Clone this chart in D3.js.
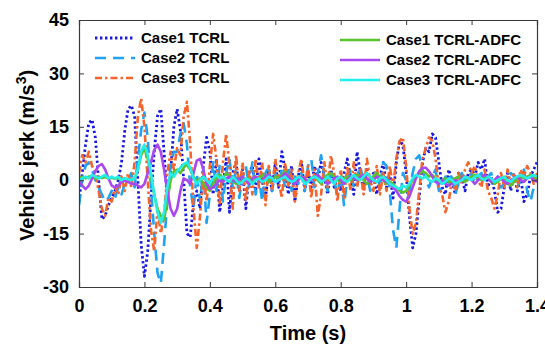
<!DOCTYPE html>
<html>
<head>
<meta charset="utf-8">
<script src="https://cdn.jsdelivr.net/npm/d3@7"></script>
<style>
  body { margin: 0; background: #fff; }
  text { font-family: "Liberation Sans", Arial, sans-serif; font-weight: bold; fill: #000; }
</style>
</head>
<body>
<div id="chart-area"></div>
<script>
const width = 545;
const height = 347;

// sampling step of every series (s)
const dt = 0.01;
const xTicks = [0, 0.2, 0.4, 0.6, 0.8, 1, 1.2, 1.4];
const yTicks = [-30, -15, 0, 15, 30, 45];
const names = ["Case1 TCRL", "Case2 TCRL", "Case3 TCRL",
    "Case1 TCRL-ADFC", "Case2 TCRL-ADFC", "Case3 TCRL-ADFC"];

const case1TCRL = [
    -6, 2, 10, 16, 17, 12, 0, -11, -10, -7,
    -5, -3, 0, 5, 14, 20, 21, 18, 0, -18,
    -27, -20, -5, 8, 18, 20, 8, -6, 2, 15,
    20, 14, 0, -15, -16, -6, -3, -8, 4, 12,
    8, -4, 6, -9, -2, 6, -9, 2, 5, -3,
    3, -8, 2, 4, -3, 6, 0, -5, 3, -3,
    5, -2, 8, 3, -4, 4, -6, 1, 5, -3,
    3, -2, 4, 0, 5, 1, -4, 3, -2, 1,
    -3, 2, 6, 1, -4, 8, 2, -3, 3, -1,
    2, -4, 1, 5, -2, 2, -5, 5, 11, 10,
    2, -10, -19, -15, -5, 5, 9, 8, 13, 12,
    5, -2, -4, 3, 0, -4, 2, 1, -3, 2,
    3, 1, 5, 3, 6, -2, 1, -3, -9, -8,
    -2, 2, -3, 2, -3, 1, -6, -4, 1, 3,
    5];
const case2TCRL = [
    -7, 0, 4, 5, 3, 0, -2, -4, -6, -5,
    -3, -5, -2, -4, -1, 0, 2, -2, 6, 14,
    19, 12, -2, -15, -26, -29, -18, -6, 4, 8,
    8, 13, 16, 10, -2, -8, 2, -6, 3, -12,
    -4, 5, -3, 4, -6, 2, 6, -2, 3, -5,
    1, 4, -2, 5, -4, 1, -6, 2, 4, -3,
    2, -1, 3, -2, 4, -3, 1, -1, 2, -3,
    4, 6, -2, 2, 7, 1, -3, 2, 0, -4,
    2, -7, 0, 3, -2, 1, 4, -1, 2, -3,
    1, 3, -2, 5, 4, -3, -14, -19, -8, 2,
    0, -3, 2, 6, 7, 3, 0, -2, 1, 3,
    -3, -2, 1, -2, 2, -4, -1, 2, 0, 1,
    2, -1, 1, 2, 0, 1, 2, -1, 1, -2,
    -1, 1, 2, 1, -2, 0, 3, -3, -6, -2,
    1];
const case3TCRL = [
    2, 7, 5, 8, 4, 2, -3, -8, -10, -5,
    -6, -2, -4, 1, -3, 2, -2, 5, 18, 23,
    15, 0, -14, -20, -8, -15, -10, 2, 8, 3,
    9, 7, 18, 22, 10, -8, -19, -10, 2, -6,
    4, 13, 6, -7, 5, 13, 4, -8, 7, -3,
    5, -6, 3, -4, 6, -2, 5, -7, 4, -3,
    6, 0, -5, 5, -2, 3, -6, 2, 6, -2,
    4, -5, 3, -10, -4, 5, -2, 7, 2, -6,
    3, -5, 4, -3, 5, -2, 3, -4, 6, 0,
    -3, 4, -4, 2, -3, 4, -2, 6, 11, 12,
    4, -8, -15, -12, -3, 6, 9, 12, 11, 6,
    -2, -4, -9, -6, 0, -3, 2, -1, 3, 5,
    2, 4, 0, -2, 3, -3, -5, -8, -4, 2,
    -2, 3, -1, 2, -2, 3, 1, 4, 2, -1,
    2];
const case1ADFC = [
    0.5, 1, 0.5, 1, 0.8, 0.5, 0.8, 0.6, 0.9, 0.5,
    0.7, 0.4, 0.6, 0.3, 0.5, 0.2, 0.1, 0.5, 3, 7,
    9, 6, 1, -4, -8, -10, -11, -6, 0, 2.5,
    3, 2, 3.5, 4.5, 3, 1, -0.5, 0.5, -1, -2,
    -3, -1, 1, 1.5, 0.5, 2, 1, 0, -1, 0.5,
    1, 0, 0.5, -0.5, 1, 0, 1.5, 0.5, -0.5, 0,
    1, 0.5, 1.5, 2.5, 1, 0, -0.5, 0.5, 1, -0.5,
    0, 0.5, 1, 0, -1, 0.5, 1.5, 2, 1, 0,
    -0.5, 0.5, 1, 0, 0.5, 1.5, 1, 0, -1, 0,
    1, 2, 1, 0, -1, -0.5, -1, -2, -3, -3.5,
    -3, -1.5, 0, 1, 2, 2.5, 2, 1, 1.5, 0.5,
    -0.5, 0, 0.5, -0.5, 0, 0.5, 1, 0, -0.5, 0.5,
    1, 1.5, 0.5, 0, 1, 0.5, 0, -1, -0.5, 0.5,
    0, -1, -1.5, -0.5, 0.5, 1, 0.5, 1, 1.5, 1,
    0.5];
const case2ADFC = [
    0, -1.5, -2.5, -1.5, 0.5, 2.5, 4, 4.5, 3, 0.5,
    -1.5, -2, -1.5, -0.5, 0, -0.5, -1, -1, -1.5, -2,
    -1, 2, 5, 8.5, 10, 8, 3, -3, -8, -10,
    -8, -3, 0.5, 0, -1, 2, 5.5, 6, 3, -1,
    -2.5, -2, -1, 0, -0.5, 0.5, 1, 0, -0.5, 0.5,
    1, 0, -1, 0.5, 1, 0, -0.5, 1, 1.5, 0.5,
    -0.5, 0, 1, 2, 1, 0, -1, 0, 1, 0.5,
    -0.5, 0, 1, 1.5, 0.5, 0, -1, -0.5, 0.5, 1,
    0, -1, 0, 1, 0.5, 0, 1, 1.5, 0.5, -0.5,
    0, 1, 0.5, 0, -0.5, -1, -2, -3, -4.5, -5.5,
    -6, -4.5, -2, 0.5, 2.5, 3.5, 3.5, 2.5, 1, -0.5,
    -1, 0, -1, -1.5, -1, 0, -0.5, 0.5, 1, 0.5,
    0, -1, 0, 1, 1.5, 0.5, -0.5, 0, 1, 0.5,
    -0.5, -1, 0, 0.5, 1, 0, -0.5, 0.5, 1, 0,
    -0.5];
const case3ADFC = [
    0, 0.5, 1, 0.5, 1.5, 1, 0.5, 1, 1.5, 0.5,
    1, 0.5, 1, 0, 0.5, 0.3, 0, 0.5, 3, 8,
    10, 7, 2, -4, -9, -12, -9, -2, 2, 1,
    2.5, 3.5, 4.5, 5, 3.5, 0.5, -1, 0, 1, 0,
    -1, 0.5, 1.5, 0.5, 1, 0, -0.5, 1, 0, -1,
    -0.5, 0.5, 0, -1, 0, 0.5, -0.5, 0, 1, 0.5,
    -0.5, 0, 0.5, 1, 0, -0.5, 0, 1, 0.5, -1,
    -0.5, 0.5, 1, 0.5, -0.5, 0, 1, 0, -1, 0.5,
    1, 0, -0.5, 0.5, 1.5, 0.5, 0, 1, 2, 1,
    0, -0.5, 0.5, 1, 0, -1, -1.5, -2, -2.5, -1.5,
    -2, -1, 0.5, 1.5, 1, 0.5, 1, 0, -0.5, 0.5,
    0, -1, -0.5, 0.5, 0, -1, -0.5, 0, 1, 0.5,
    0, 1, 1.5, 0.5, 0, 1, 0.5, -0.5, 0, 0.5,
    1, 0, -0.5, 0.5, 1, 1.5, 1, 0.5, 1, 1.5,
    1];

const series = [
    {name: names[0], values: case1TCRL, color: "#1818e0", dash: "2.4,2.6", w: 2.8},
    {name: names[1], values: case2TCRL, color: "#1fa2f2", dash: "11,7", w: 2.6},
    {name: names[2], values: case3TCRL, color: "#f4642c", dash: "7,3,2.5,3", w: 2.6},
    {name: names[3], values: case1ADFC, color: "#5cc22a", dash: null, w: 2.6},
    {name: names[4], values: case2ADFC, color: "#a948ee", dash: null, w: 2.6},
    {name: names[5], values: case3ADFC, color: "#22eeea", dash: null, w: 2.6}
];

const plotLeft = 79, plotRight = 537, plotTop = 20, plotBottom = 287;

const x = d3.scaleLinear().domain([0, 1.4]).range([plotLeft, plotRight]);
const y = d3.scaleLinear().domain([-30, 45]).range([plotBottom, plotTop]);

const svg = d3.select("#chart-area")
    .append("svg")
    .attr("width", width)
    .attr("height", height);

svg.append("defs").append("clipPath")
    .attr("id", "plot-clip")
    .append("rect")
    .attr("x", plotLeft).attr("y", plotTop)
    .attr("width", plotRight - plotLeft).attr("height", plotBottom - plotTop);

const line = d3.line()
    .x((d, i) => x(i * dt))
    .y(d => y(d));

svg.append("g")
    .attr("clip-path", "url(#plot-clip)")
    .selectAll("path")
    .data(series)
    .enter().append("path")
    .attr("d", d => line(d.values))
    .attr("fill", "none")
    .attr("stroke", d => d.color)
    .attr("stroke-width", d => d.w)
    .attr("stroke-dasharray", d => d.dash)
    .attr("stroke-linejoin", "round");

// axes, MATLAB style: box with inward ticks on all sides
const axisColor = "#3a3a3a";
const tickLen = 5;

const xAxis = svg.append("g")
    .attr("transform", `translate(0, ${plotBottom})`)
    .call(d3.axisBottom(x).tickValues(xTicks).tickSize(-tickLen).tickPadding(12)
        .tickFormat(d => String(d)));
const xTopAxis = svg.append("g")
    .attr("transform", `translate(0, ${plotTop})`)
    .call(d3.axisTop(x).tickValues(xTicks).tickSize(-tickLen).tickFormat(""));
const yAxis = svg.append("g")
    .attr("transform", `translate(${plotLeft}, 0)`)
    .call(d3.axisLeft(y).tickValues(yTicks).tickSize(-tickLen).tickPadding(10)
        .tickFormat(d => String(d)));
const yRightAxis = svg.append("g")
    .attr("transform", `translate(${plotRight}, 0)`)
    .call(d3.axisRight(y).tickValues(yTicks).tickSize(-tickLen).tickFormat(""));

[xAxis, xTopAxis, yAxis, yRightAxis].forEach(g => {
    g.select(".domain").attr("stroke", axisColor).attr("stroke-width", 1.2);
    g.selectAll(".tick line").attr("stroke", axisColor);
    g.selectAll(".tick text")
        .style("font-family", "'Liberation Sans', Arial, sans-serif")
        .style("font-weight", "bold")
        .style("font-size", "18px")
        .attr("fill", "#000");
});
xAxis.selectAll(".tick text").attr("dy", "0.71em");

svg.append("text")
    .attr("x", (plotLeft + plotRight) / 2)
    .attr("y", 340)
    .attr("text-anchor", "middle")
    .style("font-size", "20px")
    .text("Time (s)");

const yTitle = svg.append("text")
    .attr("transform", `translate(34, ${(plotTop + plotBottom) / 2 + 2}) rotate(-90)`)
    .attr("text-anchor", "middle")
    .style("font-size", "20px");
yTitle.append("tspan").text("Vehicle jerk (m/s");
yTitle.append("tspan").attr("dy", -8).style("font-size", "14px").text("3");
yTitle.append("tspan").attr("dy", 8).text(")");

// legends
function legendRow(s, lx, ly) {
    svg.append("line")
        .attr("x1", lx).attr("x2", lx + 40)
        .attr("y1", ly).attr("y2", ly)
        .attr("stroke", s.color)
        .attr("stroke-width", s.w)
        .attr("stroke-dasharray", s.dash);
    svg.append("text")
        .attr("x", lx + 46)
        .attr("y", ly)
        .attr("dy", "0.35em")
        .style("font-size", "15px")
        .text(s.name);
}

series.slice(0, 3).forEach((s, i) => legendRow(s, 95, 38 + i * 20));
series.slice(3).forEach((s, i) => legendRow(s, 340, 40 + i * 20));
</script>
</body>
</html>
